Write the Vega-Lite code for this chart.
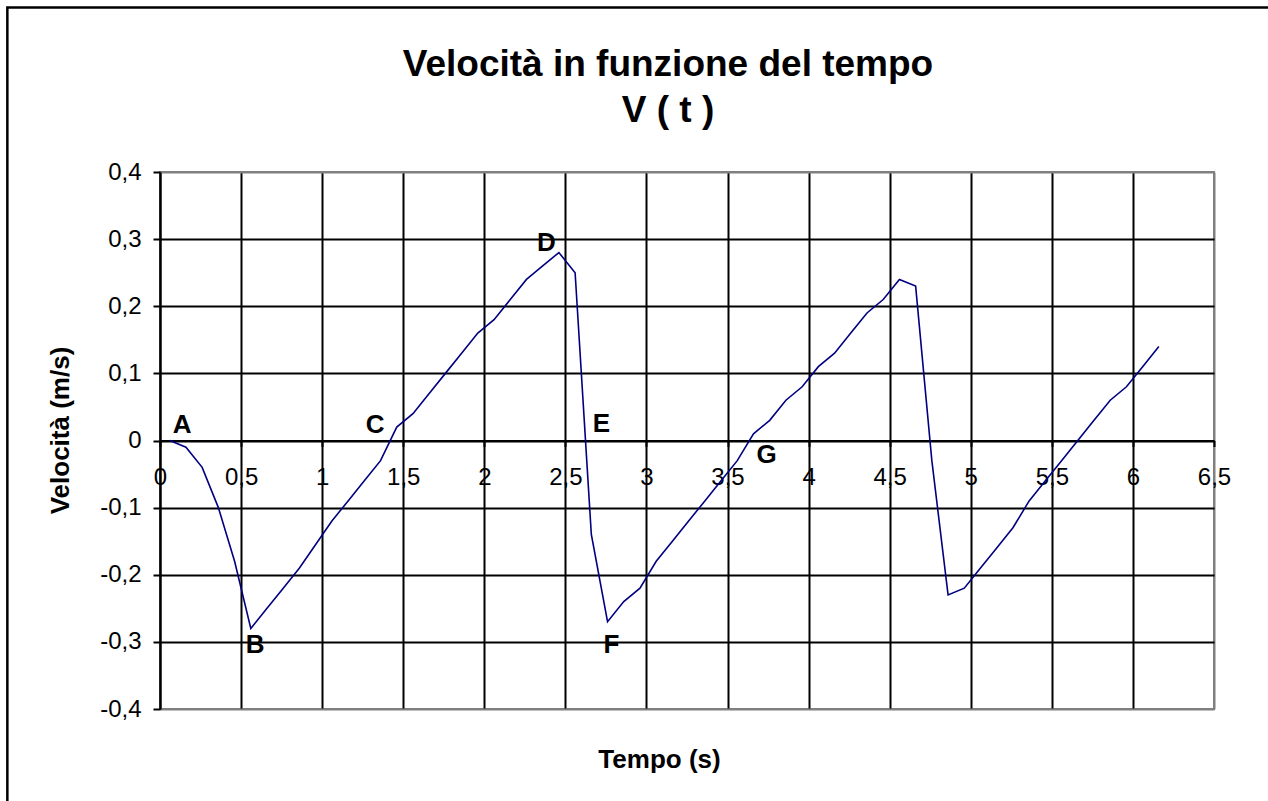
{
  "$schema": "https://vega.github.io/schema/vega-lite/v6.json",
  "width": 1054,
  "height": 537,
  "autosize": {"type": "none"},
  "padding": {"left": 160, "top": 172, "right": 54, "bottom": 92},
  "background": "white",
  "config": {
    "font": "Liberation Sans",
    "view": {"stroke": "#808080", "strokeWidth": 2}
  },
  "title": {
    "text": ["Velocità in funzione del tempo", "V ( t )"],
    "font": "Liberation Sans",
    "fontSize": 37,
    "fontWeight": "bold",
    "color": "black",
    "anchor": "middle",
    "frame": "group",
    "dx": -19,
    "lineHeight": 46,
    "offset": -123.5
  },
  "datasets": {
    "velocita": [
      {"t": 0.06, "v": 0.0},
      {"t": 0.16, "v": -0.01},
      {"t": 0.26, "v": -0.04},
      {"t": 0.36, "v": -0.10},
      {"t": 0.46, "v": -0.18},
      {"t": 0.56, "v": -0.28},
      {"t": 0.66, "v": -0.25},
      {"t": 0.76, "v": -0.22},
      {"t": 0.86, "v": -0.19},
      {"t": 0.96, "v": -0.155},
      {"t": 1.06, "v": -0.12},
      {"t": 1.16, "v": -0.09},
      {"t": 1.26, "v": -0.06},
      {"t": 1.36, "v": -0.03},
      {"t": 1.46, "v": 0.02},
      {"t": 1.56, "v": 0.04},
      {"t": 1.66, "v": 0.07},
      {"t": 1.76, "v": 0.10},
      {"t": 1.86, "v": 0.13},
      {"t": 1.96, "v": 0.16},
      {"t": 2.06, "v": 0.18},
      {"t": 2.16, "v": 0.21},
      {"t": 2.26, "v": 0.24},
      {"t": 2.36, "v": 0.26},
      {"t": 2.46, "v": 0.28},
      {"t": 2.56, "v": 0.25},
      {"t": 2.66, "v": -0.14},
      {"t": 2.76, "v": -0.27},
      {"t": 2.86, "v": -0.24},
      {"t": 2.96, "v": -0.22},
      {"t": 3.06, "v": -0.18},
      {"t": 3.16, "v": -0.15},
      {"t": 3.26, "v": -0.12},
      {"t": 3.36, "v": -0.09},
      {"t": 3.46, "v": -0.06},
      {"t": 3.56, "v": -0.03},
      {"t": 3.66, "v": 0.01},
      {"t": 3.76, "v": 0.03},
      {"t": 3.86, "v": 0.06},
      {"t": 3.96, "v": 0.08},
      {"t": 4.06, "v": 0.11},
      {"t": 4.16, "v": 0.13},
      {"t": 4.26, "v": 0.16},
      {"t": 4.36, "v": 0.19},
      {"t": 4.46, "v": 0.21},
      {"t": 4.56, "v": 0.24},
      {"t": 4.66, "v": 0.23},
      {"t": 4.76, "v": -0.03},
      {"t": 4.86, "v": -0.23},
      {"t": 4.96, "v": -0.22},
      {"t": 5.06, "v": -0.19},
      {"t": 5.16, "v": -0.16},
      {"t": 5.26, "v": -0.13},
      {"t": 5.36, "v": -0.09},
      {"t": 5.46, "v": -0.06},
      {"t": 5.56, "v": -0.03},
      {"t": 5.66, "v": 0.0},
      {"t": 5.76, "v": 0.03},
      {"t": 5.86, "v": 0.06},
      {"t": 5.96, "v": 0.08},
      {"t": 6.06, "v": 0.11},
      {"t": 6.16, "v": 0.14}
    ],
    "punti": [
      {"label": "A", "t": 0.136, "v": 0.011},
      {"label": "B", "t": 0.586, "v": -0.317},
      {"label": "C", "t": 1.327, "v": 0.011},
      {"label": "D", "t": 2.383, "v": 0.282},
      {"label": "E", "t": 2.722, "v": 0.012},
      {"label": "F", "t": 2.784, "v": -0.317},
      {"label": "G", "t": 3.741, "v": -0.034}
    ]
  },
  "layer": [
    {
      "data": {"values": [{}]},
      "mark": {"type": "rect", "filled": false, "stroke": "black", "strokeWidth": 2.5},
      "encoding": {
        "x": {"datum": -0.9414, "type": "quantitative"},
        "x2": {"datum": 6.95},
        "y": {"datum": 0.6451, "type": "quantitative"},
        "y2": {"datum": -0.57}
      }
    },
    {
      "data": {"name": "velocita"},
      "mark": {"type": "line", "color": "#000080", "strokeWidth": 1.6},
      "encoding": {
        "x": {
          "field": "t",
          "type": "quantitative",
          "scale": {"domain": [0, 6.5], "nice": false, "zero": false},
          "axis": {
            "values": [0, 0.5, 1, 1.5, 2, 2.5, 3, 3.5, 4, 4.5, 5, 5.5, 6, 6.5],
            "offset": -268.5,
            "labelExpr": "replace(replace(format(datum.value, '.1~f'), '.', ','), '\u2212', '-')",
            "labelFontSize": 24,
            "labelColor": "black",
            "labelFlush": false,
            "labelOverlap": false,
            "labelBound": false,
            "labelPadding": 19,
            "tickSize": 6,
            "tickColor": "black",
            "tickWidth": 2,
            "domainColor": "black",
            "domainWidth": 2,
            "grid": true,
            "gridColor": {"condition": {"test": "datum.value >= 6.5", "value": "#808080"}, "value": "black"},
            "gridWidth": 2,
            "gridOpacity": 1,
            "title": "Tempo (s)",
            "titleFontSize": 26,
            "titleFontWeight": "bold",
            "titleColor": "black",
            "titleX": 499,
            "titleY": 326.5,
            "titleAlign": "center",
            "titleBaseline": "alphabetic"
          }
        },
        "y": {
          "field": "v",
          "type": "quantitative",
          "scale": {"domain": [-0.4, 0.4], "nice": false, "zero": false},
          "axis": {
            "values": [-0.4, -0.3, -0.2, -0.1, 0, 0.1, 0.2, 0.3, 0.4],
            "labelExpr": "replace(replace(format(datum.value, '.1~f'), '.', ','), '\u2212', '-')",
            "labelFontSize": 24,
            "labelColor": "black",
            "labelOverlap": false,
            "labelBound": false,
            "labelFlush": false,
            "labelPadding": 12,
            "tickSize": 7,
            "tickColor": "black",
            "tickWidth": 2,
            "domainColor": "black",
            "domainWidth": 2,
            "grid": true,
            "gridColor": {"condition": {"test": "abs(datum.value) >= 0.4", "value": "#808080"}, "value": "black"},
            "gridWidth": 2,
            "gridOpacity": 1,
            "title": "Velocità (m/s)",
            "titleFontSize": 26,
            "titleFontWeight": "bold",
            "titleColor": "black",
            "titleAngle": -90,
            "titleX": -100,
            "titleY": 258,
            "titleAlign": "center",
            "titleBaseline": "middle"
          }
        }
      }
    },
    {
      "data": {"name": "punti"},
      "mark": {"type": "text", "font": "Liberation Sans", "fontSize": 26, "fontWeight": "bold", "color": "black", "align": "center", "baseline": "alphabetic"},
      "encoding": {
        "x": {"field": "t", "type": "quantitative"},
        "y": {"field": "v", "type": "quantitative"},
        "text": {"field": "label"}
      }
    }
  ]
}
